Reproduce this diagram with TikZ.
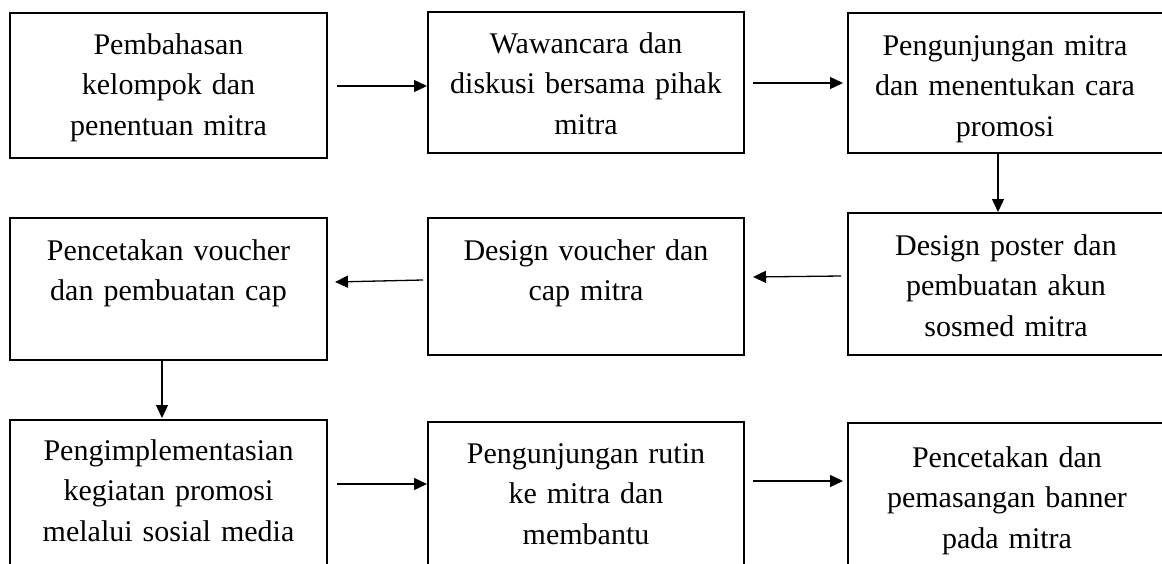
\documentclass[tikz,border=0pt]{standalone}
\usepackage{fontspec}
\setmainfont{Liberation Serif}
\usetikzlibrary{arrows.meta}
\tikzset{
  box/.style={draw=black, line width=2.8pt, rectangle, inner sep=0pt, outer sep=0pt},
  lbl/.style={anchor=base, align=center, inner sep=0pt, text width=310pt,
              font=\fontsize{30}{40.5}\selectfont},
  arr/.style={draw=black, line width=1.3pt, -{Triangle[length=13pt,width=12pt]}}
}
\begin{document}
\begin{tikzpicture}[x=1pt,y=-1pt]
\useasboundingbox (0,0) rectangle (1162,563);
\clip (0,0) rectangle (1162,563);
\fill[white] (0,0) rectangle (1162,563);
% boxes
\node[box, minimum width=317pt, minimum height=145pt] (b1) at (168.5,85.5) {};
\node[box, minimum width=316pt, minimum height=141pt] (b2) at (586,82.5) {};
\node[box, minimum width=318pt, minimum height=140pt] (b3) at (1007,83) {};
\node[box, minimum width=318pt, minimum height=142pt] (b4) at (1007,284) {};
\node[box, minimum width=316pt, minimum height=137pt] (b5) at (586,286.5) {};
\node[box, minimum width=317pt, minimum height=142pt] (b6) at (168.5,289) {};
\node[box, minimum width=317pt, minimum height=160pt] (b7) at (168.5,500) {};
\node[box, minimum width=316pt, minimum height=158pt] (b8) at (586,501) {};
\node[box, minimum width=318pt, minimum height=157pt] (b9) at (1007,501.5) {};
% labels
\node[lbl] (t1) at (168.5,54) {Pembahasan\\kelompok dan\\penentuan mitra};
\node[lbl] (t2) at (586,53) {Wawancara dan\\diskusi bersama pihak\\mitra};
\node[lbl] (t3) at (1005,55) {Pengunjungan mitra\\dan menentukan cara\\promosi};
\node[lbl] (t4) at (1006,255) {Design poster dan\\pembuatan akun\\sosmed mitra};
\node[lbl] (t5) at (586,260) {Design voucher dan\\cap mitra};
\node[lbl] (t6) at (168.5,260) {Pencetakan voucher\\dan pembuatan cap};
\node[lbl] (t7) at (168.5,460) {Pengimplementasian\\kegiatan promosi\\melalui sosial media};
\node[lbl] (t8) at (586,463) {Pengunjungan rutin\\ke mitra dan\\membantu};
\node[lbl] (t9) at (1007,467) {Pencetakan dan\\pemasangan banner\\pada mitra};
% connectors
\draw[arr] ([xshift=10pt,yshift=-0.5pt]b1.east) -- ([xshift=-1pt,yshift=-3.5pt]b2.west);
\draw[arr] ([xshift=9pt,yshift=-0.5pt]b2.east) -- ([xshift=-5pt]b3.west);
\draw[arr] ([xshift=-9pt]b3.south) -- ([xshift=-9pt,yshift=1pt]b4.north);
\draw[arr] ([xshift=-7pt,yshift=8pt]b4.west) -- ([xshift=9pt,yshift=9.5pt]b5.east);
\draw[arr] ([xshift=-5pt,yshift=6.5pt]b5.west) -- ([xshift=8pt,yshift=7pt]b6.east);
\draw[arr] ([xshift=-6.5pt]b6.south) -- ([xshift=-6.5pt,yshift=2pt]b7.north);
\draw[arr] ([xshift=10pt,yshift=16pt]b7.east) -- ([xshift=-1pt,yshift=17pt]b8.west);
\draw[arr] ([xshift=9pt,yshift=20pt]b8.east) -- ([xshift=-5pt,yshift=20.5pt]b9.west);
\end{tikzpicture}
\end{document}
